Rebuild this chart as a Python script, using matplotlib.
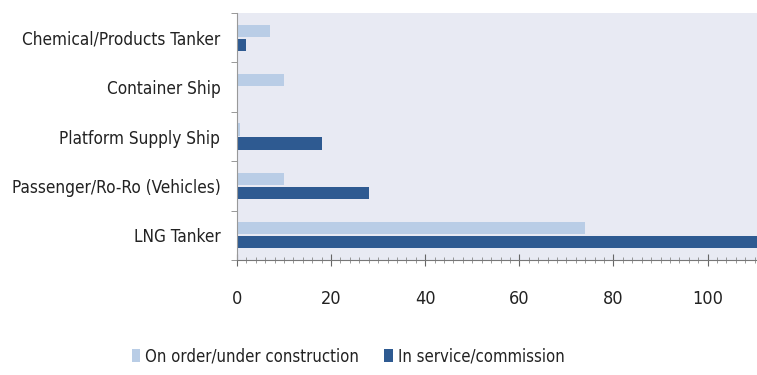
import matplotlib
matplotlib.use("Agg")
import matplotlib.pyplot as plt
import numpy as np
from matplotlib.ticker import MultipleLocator

plt.rcParams['font.family'] = ['DejaVu Sans']
plt.rcParams['font.stretch'] = 'condensed'

categories = ["Chemical/Products Tanker", "Container Ship", "Platform Supply Ship",
              "Passenger/Ro-Ro (Vehicles)", "LNG Tanker"]
on_order = [7, 10, 0.6, 10, 74]
in_service = [2, 0, 18, 28, 115]
series_names = ["On order/under construction", "In service/commission"]

light = "#b9cde6"
dark = "#2e5a91"

fig = plt.figure(figsize=(7.57, 3.75), dpi=100)
ax = fig.add_axes([0.313, 0.307, 0.687, 0.658])
ax.set_facecolor("#e8eaf3")

y = np.arange(len(categories))
h = 0.25
ax.barh(y - 0.14, on_order, height=h, color=light, label=series_names[0])
ax.barh(y + 0.14, in_service, height=h, color=dark, label=series_names[1])

ax.set_xlim(0, 110.5)
ax.set_ylim(len(categories) - 0.5, -0.5)

# category labels, with small ticks on the band boundaries
ax.set_yticks(y)
ax.set_yticklabels(categories, fontsize=12.3, color="#222222")
ax.set_yticks(np.arange(len(categories) + 1) - 0.5, minor=True)
ax.tick_params(axis="y", which="major", length=0, pad=12)
ax.tick_params(axis="y", which="minor", length=4, color="#888888", direction="out")

ax.xaxis.set_major_locator(MultipleLocator(20))
ax.xaxis.set_minor_locator(MultipleLocator(2))
ax.tick_params(axis="x", which="major", length=8, color="#666666", direction="inout",
               labelsize=13, labelcolor="#222222", pad=18)
ax.tick_params(axis="x", which="minor", length=4, color="#888888", direction="inout")

for side in ["top", "right"]:
    ax.spines[side].set_visible(False)
ax.spines["left"].set_color("#999999")
ax.spines["bottom"].set_color("#777777")

fig.legend(loc="center", bbox_to_anchor=(0.46, 0.05), ncol=2, frameon=False,
           fontsize=12, handlelength=0.5, handleheight=0.8, handletextpad=0.3,
           columnspacing=1.5, labelcolor="#222222")

fig.savefig("out.png", dpi=100)
